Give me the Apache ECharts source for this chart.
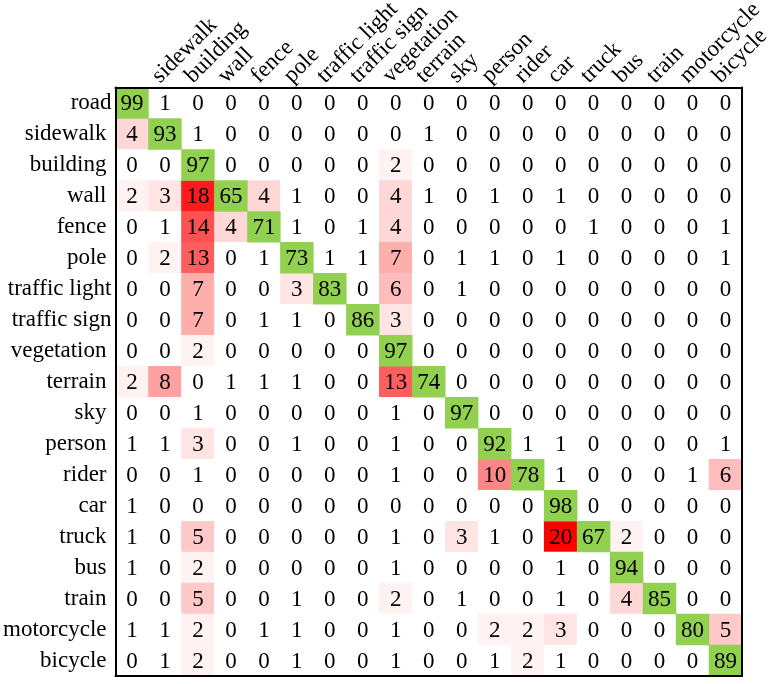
<!DOCTYPE html>
<html><head><meta charset="utf-8">
<script src="https://cdn.jsdelivr.net/npm/echarts@6/dist/echarts.min.js"></script>
<style>html,body{margin:0;padding:0;background:#fff}#c{width:769px;height:684px}</style>
</head><body><div id="c"></div>
<script>
const categories = ['road','sidewalk','building','wall','fence','pole','traffic light','traffic sign','vegetation','terrain','sky','person','rider','car','truck','bus','train','motorcycle','bicycle'];

const rowRoad         = [99,1,0,0,0,0,0,0,0,0,0,0,0,0,0,0,0,0,0];
const rowSidewalk     = [4,93,1,0,0,0,0,0,0,1,0,0,0,0,0,0,0,0,0];
const rowBuilding     = [0,0,97,0,0,0,0,0,2,0,0,0,0,0,0,0,0,0,0];
const rowWall         = [2,3,18,65,4,1,0,0,4,1,0,1,0,1,0,0,0,0,0];
const rowFence        = [0,1,14,4,71,1,0,1,4,0,0,0,0,0,1,0,0,0,1];
const rowPole         = [0,2,13,0,1,73,1,1,7,0,1,1,0,1,0,0,0,0,1];
const rowTrafficLight = [0,0,7,0,0,3,83,0,6,0,1,0,0,0,0,0,0,0,0];
const rowTrafficSign  = [0,0,7,0,1,1,0,86,3,0,0,0,0,0,0,0,0,0,0];
const rowVegetation   = [0,0,2,0,0,0,0,0,97,0,0,0,0,0,0,0,0,0,0];
const rowTerrain      = [2,8,0,1,1,1,0,0,13,74,0,0,0,0,0,0,0,0,0];
const rowSky          = [0,0,1,0,0,0,0,0,1,0,97,0,0,0,0,0,0,0,0];
const rowPerson       = [1,1,3,0,0,1,0,0,1,0,0,92,1,1,0,0,0,0,1];
const rowRider        = [0,0,1,0,0,0,0,0,1,0,0,10,78,1,0,0,0,1,6];
const rowCar          = [1,0,0,0,0,0,0,0,0,0,0,0,0,98,0,0,0,0,0];
const rowTruck        = [1,0,5,0,0,0,0,0,1,0,3,1,0,20,67,2,0,0,0];
const rowBus          = [1,0,2,0,0,0,0,0,1,0,0,0,0,1,0,94,0,0,0];
const rowTrain        = [0,0,5,0,0,1,0,0,2,0,1,0,0,1,0,4,85,0,0];
const rowMotorcycle   = [1,1,2,0,1,1,0,0,1,0,0,2,2,3,0,0,0,80,5];
const rowBicycle      = [0,1,2,0,0,1,0,0,1,0,0,1,2,1,0,0,0,0,89];

const matrix = [rowRoad,rowSidewalk,rowBuilding,rowWall,rowFence,rowPole,rowTrafficLight,rowTrafficSign,rowVegetation,rowTerrain,rowSky,rowPerson,rowRider,rowCar,rowTruck,rowBus,rowTrain,rowMotorcycle,rowBicycle];

const offDiag = [], diag = [];
matrix.forEach((row, r) => row.forEach((v, c) => (r === c ? diag : offDiag).push([c, r, v])));

const FONT = 'Liberation Serif';
const FS = 23;
const flushRowLabels = ['road', 'traffic light', 'traffic sign'];
const lineStyle = {color: '#000', width: 2};
const cellLabel = {show: true, fontSize: FS, fontFamily: FONT, color: '#000', offset: [0, 1]};

const chart = echarts.init(document.getElementById('c'));
chart.setOption({
  animation: false,
  grid: [
    {left: 115.5, top: 87.5, width: 626.5, height: 588.5, containLabel: false, outerBoundsMode: 'none'},
    {left: 114.5, top: 87.5, width: 626.5, height: 588.5, containLabel: false, outerBoundsMode: 'none'}
  ],
  xAxis: [
    {type: 'category', data: categories, gridIndex: 0, position: 'top', z: 10,
     axisLine: {show: true, lineStyle}, axisTick: {show: false}, axisLabel: {show: false}, splitLine: {show: false}},
    {type: 'category', data: categories, gridIndex: 0, position: 'bottom', z: 10,
     axisLine: {show: true, lineStyle}, axisTick: {show: false}, axisLabel: {show: false}, splitLine: {show: false}},
    {type: 'category', data: categories, gridIndex: 1, position: 'top', z: 10,
     axisLine: {show: false}, axisTick: {show: false}, splitLine: {show: false},
     axisLabel: {rotate: -45, interval: 0, fontSize: FS, fontFamily: FONT, color: '#000', margin: 0,
                 align: 'left', verticalAlign: 'bottom', overflow: 'none', hideOverlap: false,
                 showMinLabel: true, showMaxLabel: true,
                 formatter: (v, i) => i === 0 ? '' : v}}
  ],
  yAxis: [
    {type: 'category', data: categories, gridIndex: 0, inverse: true, position: 'left', z: 10,
     axisLine: {show: true, lineStyle}, axisTick: {show: false}, splitLine: {show: false},
     axisLabel: {interval: 0, fontSize: FS, fontFamily: FONT, color: '#000', margin: 4,
                 formatter: v => flushRowLabels.includes(v) ? v : '{p|' + v + '}',
                 rich: {p: {padding: [0, 5, 0, 0], fontSize: FS, fontFamily: FONT, color: '#000'}}}},
    {type: 'category', data: categories, gridIndex: 0, inverse: true, position: 'right', z: 10,
     axisLine: {show: true, lineStyle}, axisTick: {show: false}, axisLabel: {show: false}, splitLine: {show: false}},
    {type: 'category', data: categories, gridIndex: 1, inverse: true, show: false}
  ],
  visualMap: [
    {type: 'continuous', show: false, seriesIndex: 0, dimension: 2, min: 1, max: 20,
     inRange: {color: ['#ffffff', '#ff0000']}, outOfRange: {color: '#ffffff'}},
    {type: 'continuous', show: false, seriesIndex: 1, dimension: 2, min: 0, max: 100,
     inRange: {color: ['#92d050', '#92d050']}}
  ],
  series: [
    {type: 'heatmap', xAxisIndex: 0, yAxisIndex: 0, data: offDiag, label: cellLabel, itemStyle: {borderWidth: 0}},
    {type: 'heatmap', xAxisIndex: 0, yAxisIndex: 0, data: diag, label: cellLabel, itemStyle: {borderWidth: 0}}
  ]
});
</script></body></html>
